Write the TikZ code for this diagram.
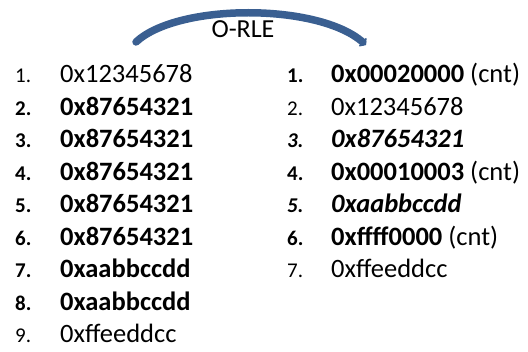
\documentclass[tikz,border=0pt]{standalone}
\usepackage{fontspec}
\setmainfont{Carlito}
\usetikzlibrary{arrows.meta}
\definecolor{arcblue}{RGB}{58,95,145}
\tikzset{
  num/.style={anchor=base west, inner sep=0pt, font=\fontsize{21}{21}\selectfont},
  val/.style={anchor=base west, inner sep=0pt, font=\fontsize{26.5}{26.5}\selectfont},
  arc/.style={draw=arcblue, line width=7.5pt, line cap=round,
    -{Triangle[length=5pt,width=13pt,round]}},
}
\begin{document}
\begin{tikzpicture}[x=1pt,y=-1pt]
\useasboundingbox (0,0) rectangle (528,352);

% arrow showing the encoding step
\coordinate (arcA) at (136,42);
\coordinate (arcB) at (366,45);
\draw[arc] (arcA) .. controls (178,3) and (318,3) .. (arcB);
\node[anchor=base, inner sep=0pt, font=\fontsize{26}{26}\selectfont] (title) at (243,38) {O-RLE};

% input sequence
\foreach \i/\n/\t/\f in {
  1/1./0x12345678/,
  2/2./0x87654321/\bfseries,
  3/3./0x87654321/\bfseries,
  4/4./0x87654321/\bfseries,
  5/5./0x87654321/\bfseries,
  6/6./0x87654321/\bfseries,
  7/7./0xaabbccdd/\bfseries,
  8/8./0xaabbccdd/\bfseries,
  9/9./0xffeeddcc/} {
  \pgfmathsetmacro\yy{83+32.5*(\i-1)}
  \node[num] (ln\i) at (15,\yy) {\f\n};
  \node[val] (lv\i) at (60,\yy) {\f\t};
}

% encoded sequence
\foreach \i/\n/\t/\f/\e in {
  1/1./0x00020000/\bfseries/{ (cnt)},
  2/2./0x12345678//{},
  3/3./0x87654321/\bfseries\itshape/{},
  4/4./0x00010003/\bfseries/{ (cnt)},
  5/5./0xaabbccdd/\bfseries\itshape/{},
  6/6./0xffff0000/\bfseries/{ (cnt)},
  7/7./0xffeeddcc//{}} {
  \pgfmathsetmacro\yy{83+32.5*(\i-1)}
  \node[num] (rn\i) at (287,\yy) {\f\n};
  \node[val] (rv\i) at (331,\yy) {{\f\t}\e};
}
\end{tikzpicture}
\end{document}
